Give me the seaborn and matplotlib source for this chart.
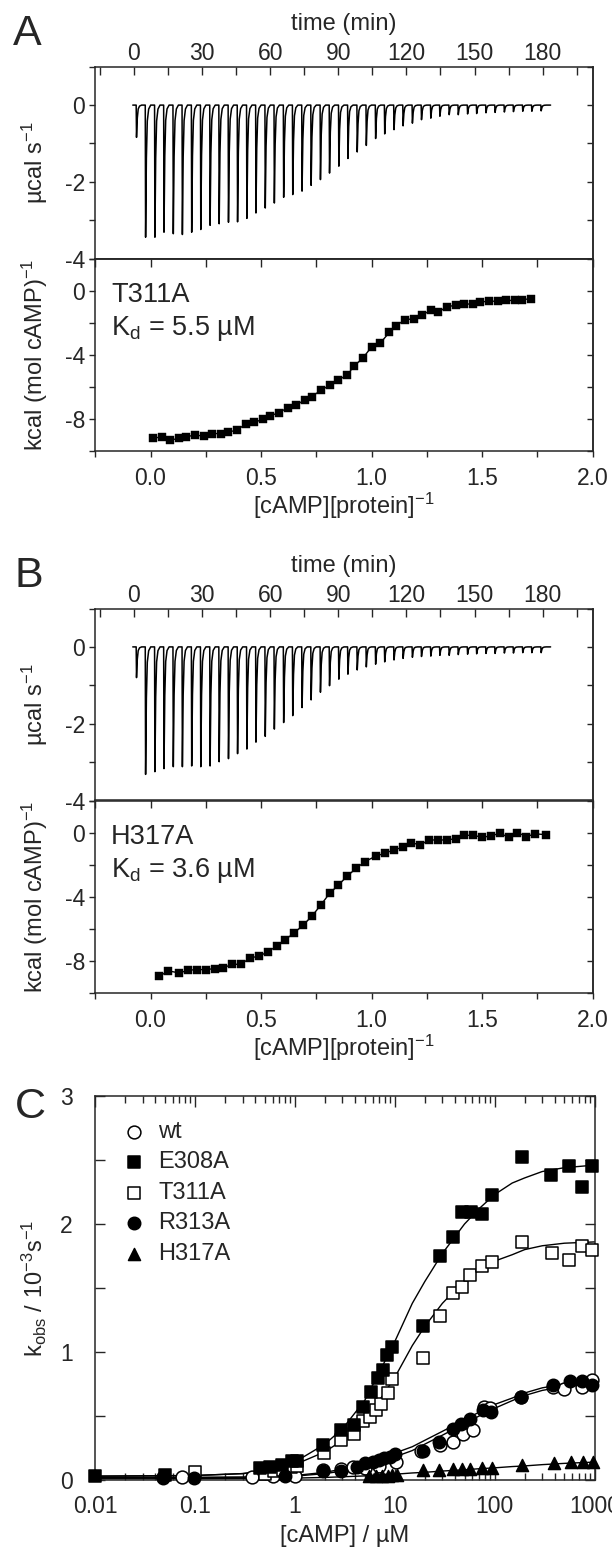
import numpy as np
import pandas as pd
import matplotlib
matplotlib.use("Agg")
import matplotlib.pyplot as plt
import seaborn as sns
from matplotlib.ticker import (MultipleLocator, LogLocator, NullFormatter,
                               FuncFormatter, FormatStrFormatter)

sns.set_style("ticks")
plt.rcParams['font.family'] = ['Liberation Sans', 'DejaVu Sans']
plt.rcParams['mathtext.fontset'] = 'custom'
plt.rcParams['mathtext.rm'] = 'Liberation Sans'
plt.rcParams['mathtext.it'] = 'Liberation Sans:italic'
plt.rcParams['mathtext.default'] = 'regular'
plt.rcParams['axes.unicode_minus'] = False

# ---- ITC raw data: injection times (min) and peak heights (ucal/s) ----
inj_time = [1, 5, 9.1, 13.1, 17.2, 21.2, 25.3, 29.3, 33.4, 37.4, 41.5, 45.5,
            49.6, 53.6, 57.7, 61.7, 65.8, 69.8, 73.9, 77.9, 82, 86, 90.1,
            94.1, 98.2, 102.2, 106.3, 110.3, 114.4, 118.4, 122.5, 126.5,
            130.6, 134.6, 138.7, 142.7, 146.8, 150.8, 154.9, 158.9, 163, 167,
            171.1, 175.1, 179.2]
peak_A = [0.84, 3.44, 3.44, 3.31, 3.35, 3.37, 3.31, 3.24, 3.13, 3.09,
          3.05, 3.04, 2.95, 2.81, 2.68, 2.55, 2.40, 2.33, 2.24, 2.09,
          1.94, 1.77, 1.59, 1.39, 1.22, 1.05, 0.87, 0.75, 0.64, 0.54,
          0.47, 0.38, 0.34, 0.29, 0.25, 0.25, 0.23, 0.22, 0.20, 0.19,
          0.18, 0.17, 0.16, 0.16, 0.15]
peak_B = [0.80, 3.32, 3.25, 3.17, 3.12, 3.12, 3.10, 3.12, 3.10, 2.99,
          2.91, 2.78, 2.66, 2.48, 2.33, 2.14, 1.97, 1.79, 1.58, 1.38,
          1.18, 1.01, 0.84, 0.71, 0.60, 0.52, 0.45, 0.39, 0.34, 0.30,
          0.27, 0.25, 0.24, 0.22, 0.22, 0.20, 0.19, 0.18, 0.17, 0.17,
          0.16, 0.16, 0.15, 0.15, 0.15]

# ---- ITC integrated heats ----
ratio_A = [0.01, 0.05, 0.09, 0.13, 0.16, 0.20, 0.24, 0.28, 0.32, 0.35, 0.39,
           0.43, 0.47, 0.51, 0.54, 0.58, 0.62, 0.66, 0.70, 0.73, 0.77, 0.81,
           0.85, 0.89, 0.92, 0.96, 1.00, 1.04, 1.08, 1.11, 1.15, 1.19, 1.23,
           1.27, 1.30, 1.34, 1.38, 1.42, 1.46, 1.49, 1.53, 1.57, 1.61, 1.65,
           1.68, 1.72]
heat_A = [-9.2, -9.1, -9.3, -9.2, -9.1, -9.0, -9.05, -8.9, -8.9, -8.8, -8.7,
          -8.3, -8.2, -8.0, -7.8, -7.6, -7.3, -7.1, -6.8, -6.6, -6.2, -5.9,
          -5.55, -5.25, -4.7, -4.2, -3.5, -3.25, -2.6, -2.2, -1.8, -1.75,
          -1.5, -1.2, -1.35, -1.0, -0.9, -0.85, -0.8, -0.7, -0.65, -0.65,
          -0.6, -0.6, -0.55, -0.5]
ratio_B = [0.04, 0.08, 0.13, 0.17, 0.21, 0.25, 0.29, 0.33, 0.37, 0.41, 0.45,
           0.49, 0.53, 0.57, 0.61, 0.65, 0.69, 0.73, 0.77, 0.81, 0.85, 0.89,
           0.93, 0.97, 1.02, 1.06, 1.10, 1.14, 1.18, 1.22, 1.26, 1.30, 1.34,
           1.38, 1.42, 1.46, 1.50, 1.54, 1.58, 1.62, 1.66, 1.70, 1.74, 1.79]
heat_B = [-8.96, -8.62, -8.75, -8.58, -8.54, -8.54, -8.48, -8.42, -8.21,
          -8.21, -7.81, -7.71, -7.44, -7.08, -6.67, -6.25, -5.77, -5.21,
          -4.52, -3.79, -3.27, -2.71, -2.23, -1.81, -1.46, -1.29, -1.08,
          -0.92, -0.63, -0.77, -0.46, -0.46, -0.46, -0.38, -0.17, -0.17,
          -0.29, -0.21, -0.04, -0.29, 0.0, -0.25, -0.08, -0.13]

# ---- panel C: kobs vs cAMP ----
wt_c = [0.048, 0.074, 0.37, 0.6, 1.0, 1.9, 2.9, 3.8, 5, 7, 10.3, 18.5, 28.5,
        38.5, 48, 61, 79, 90, 185, 380, 500, 750, 944]
wt_k = [0.02, 0.02, 0.02, 0.03, 0.035, 0.08, 0.085, 0.10, 0.09, 0.11, 0.14,
        0.23, 0.27, 0.30, 0.36, 0.39, 0.57, 0.56, 0.65, 0.73, 0.71, 0.73, 0.78]
e308_c = [0.01, 0.05, 0.45, 0.56, 0.74, 0.93, 1.06, 1.9, 2.9, 3.9, 4.8, 5.8,
          6.8, 7.6, 8.4, 9.4, 19.3, 28.5, 38, 47.5, 58.6, 75, 95, 187, 370,
          555, 748, 944]
e308_k = [0.03, 0.04, 0.09, 0.10, 0.12, 0.15, 0.15, 0.27, 0.39, 0.43, 0.57,
          0.69, 0.80, 0.86, 0.98, 1.04, 1.20, 1.75, 1.90, 2.09, 2.09, 2.08,
          2.23, 2.52, 2.38, 2.45, 2.29, 2.45]
t311_c = [0.1, 0.5, 0.62, 0.77, 0.92, 1.06, 1.94, 2.9, 3.9, 4.8, 5.6, 6.5,
          7.3, 8.5, 9.5, 19.2, 28.2, 38.5, 47, 56.5, 74, 95, 187, 374, 550,
          748, 944]
t311_k = [0.065, 0.05, 0.07, 0.08, 0.10, 0.11, 0.21, 0.31, 0.36, 0.46, 0.49,
          0.55, 0.59, 0.68, 0.79, 0.95, 1.28, 1.46, 1.51, 1.60, 1.67, 1.70,
          1.86, 1.77, 1.72, 1.83, 1.80]
r313_c = [0.048, 0.097, 0.8, 1.9, 2.9, 4.2, 5.1, 6.0, 7.0, 7.9, 8.9, 10, 19,
          28, 38.5, 46.6, 56.5, 77, 93, 185, 380, 570, 750, 944]
r313_k = [0.016, 0.016, 0.03, 0.07, 0.07, 0.10, 0.13, 0.14, 0.16, 0.17, 0.18,
          0.20, 0.23, 0.30, 0.40, 0.44, 0.48, 0.55, 0.53, 0.65, 0.74, 0.77,
          0.77, 0.74]
h317_c = [5.5, 6.5, 7.5, 8.5, 9.5, 10.5, 19, 28, 38, 47, 57, 75, 95, 190,
          390, 580, 770, 960]
h317_k = [0.03, 0.03, 0.035, 0.035, 0.04, 0.04, 0.08, 0.08, 0.085, 0.085,
          0.085, 0.09, 0.09, 0.12, 0.13, 0.14, 0.14, 0.14]

# fitted curves
fit_c = [0.01, 0.1, 0.3, 0.5, 1, 2, 3, 5, 7, 10, 15, 20, 30, 50, 70, 100,
         150, 200, 300, 500, 1000]
fit_e308 = [0.03, 0.035, 0.05, 0.07, 0.14, 0.28, 0.40, 0.62, 0.84, 1.08,
            1.38, 1.55, 1.77, 2.00, 2.12, 2.23, 2.32, 2.36, 2.41, 2.44, 2.46]
fit_t311 = [0.03, 0.035, 0.05, 0.07, 0.12, 0.22, 0.31, 0.47, 0.62, 0.80,
            1.05, 1.20, 1.38, 1.56, 1.64, 1.71, 1.76, 1.80, 1.83, 1.85, 1.86]
fit_r313 = [0.02, 0.02, 0.022, 0.025, 0.035, 0.06, 0.085, 0.13, 0.17, 0.21,
            0.26, 0.31, 0.38, 0.47, 0.53, 0.59, 0.64, 0.68, 0.72, 0.75, 0.77]
fit_wt = [0.02, 0.02, 0.022, 0.025, 0.03, 0.05, 0.07, 0.11, 0.145, 0.18,
          0.23, 0.28, 0.35, 0.44, 0.50, 0.56, 0.62, 0.66, 0.70, 0.73, 0.75]
fit_h317 = [0.01, 0.01, 0.012, 0.013, 0.015, 0.02, 0.025, 0.032, 0.038,
            0.045, 0.055, 0.06, 0.07, 0.08, 0.088, 0.095, 0.105, 0.11, 0.12,
            0.13, 0.14]

TICK_FS = 16.5
LAB_FS = 17

fig = plt.figure(figsize=(6.12, 15.53), dpi=100)


def px_rect(left, top, right, bottom):
    return [left / 612, 1 - bottom / 1553, (right - left) / 612, (bottom - top) / 1553]


def thermogram(peaks):
    # build the raw power trace from the peak heights
    spike_dt = [0, 0.15, 0.5, 0.9, 1.5, 2.4]
    spike_shape = [0, 1, 0.4, 0.12, 0.03, 0]
    tt = [-0.5]
    pp = [0.0]
    for t, d in zip(inj_time, peaks):
        for dt, f in zip(spike_dt, spike_shape):
            tt.append(t + dt)
            pp.append(-d * f)
    tt.append(183.5)
    pp.append(0.0)
    return pd.DataFrame({'t': tt, 'p': pp})


def itc_panel(top_px, peaks, ratio, heat, name, kd):
    mid = top_px + 192
    ax_up = fig.add_axes(px_rect(95.3, top_px, 592.6, mid))
    ax_lo = fig.add_axes(px_rect(95.3, mid, 592.6, mid + 192.5))

    tr = thermogram(peaks)
    sns.lineplot(data=tr, x='t', y='p', ax=ax_up, color='black', lw=1.1,
                 estimator=None, sort=False)
    ax_up.set_xlim(-17, 202)
    ax_up.set_ylim(-4, 1)
    ax_up.xaxis.set_major_locator(MultipleLocator(30))
    ax_up.xaxis.set_minor_locator(MultipleLocator(15))
    ax_up.yaxis.set_major_locator(MultipleLocator(2))
    ax_up.yaxis.set_minor_locator(MultipleLocator(1))
    ax_up.tick_params(axis='x', which='both', bottom=False, top=True,
                      labelbottom=False, labeltop=True, direction='in',
                      length=5.5, width=1, pad=1, labelsize=TICK_FS)
    ax_up.tick_params(axis='y', which='both', left=True, right=False,
                      direction='out', length=4.5, width=1, pad=3,
                      labelsize=TICK_FS)
    ax_up.xaxis.set_label_position('top')
    ax_up.set_xlabel('time (min)', fontsize=LAB_FS)
    ax_up.xaxis.set_label_coords(0.5, 1.19)
    ax_up.set_ylabel('µcal s$^{-1}$', fontsize=LAB_FS)
    ax_up.yaxis.set_label_coords(-0.092, 0.5)
    sec = ax_up.secondary_yaxis('right')
    sec.yaxis.set_major_locator(MultipleLocator(2))
    sec.yaxis.set_minor_locator(MultipleLocator(1))
    sec.yaxis.set_major_formatter(NullFormatter())
    sec.tick_params(which='both', direction='in', length=4.5, width=1)

    sns.lineplot(x=ratio, y=heat, ax=ax_lo, color='black', lw=1.0,
                 estimator=None, sort=False)
    sns.scatterplot(x=ratio, y=heat, ax=ax_lo, marker='s', s=30,
                    color='black', edgecolor='black', linewidth=0.3, zorder=3)
    ax_lo.set_xlim(-0.25, 2.0)
    ax_lo.set_ylim(-10, 2)
    ax_lo.xaxis.set_major_locator(MultipleLocator(0.5))
    ax_lo.xaxis.set_minor_locator(MultipleLocator(0.25))
    ax_lo.xaxis.set_major_formatter(FormatStrFormatter('%.1f'))
    ax_lo.yaxis.set_major_locator(MultipleLocator(4))
    ax_lo.yaxis.set_minor_locator(MultipleLocator(2))
    ax_lo.tick_params(axis='x', which='both', bottom=True, top=False,
                      direction='out', length=4.5, width=1, pad=7,
                      labelsize=TICK_FS)
    ax_lo.tick_params(axis='y', which='both', left=True, right=False,
                      direction='out', length=4.5, width=1, pad=3,
                      labelsize=TICK_FS)
    ax_lo.set_xlabel('[cAMP][protein]$^{-1}$', fontsize=LAB_FS)
    ax_lo.xaxis.set_label_coords(0.5, -0.205)
    ax_lo.set_ylabel('kcal (mol cAMP)$^{-1}$', fontsize=LAB_FS)
    ax_lo.yaxis.set_label_coords(-0.092, 0.5)
    secx = ax_lo.secondary_xaxis('top')
    secx.xaxis.set_major_locator(MultipleLocator(0.25))
    secx.xaxis.set_major_formatter(NullFormatter())
    secx.tick_params(direction='in', length=5.5, width=1)
    secy = ax_lo.secondary_yaxis('right')
    secy.yaxis.set_major_locator(MultipleLocator(4))
    secy.yaxis.set_minor_locator(MultipleLocator(2))
    secy.yaxis.set_major_formatter(NullFormatter())
    secy.tick_params(which='both', direction='in', length=4.5, width=1)

    ax_lo.text(0.032, 0.775, name, transform=ax_lo.transAxes,
               fontsize=19.5, va='baseline', ha='left')
    ax_lo.text(0.032, 0.605, 'K$_d$ = ' + kd + ' µM', transform=ax_lo.transAxes,
               fontsize=19.5, va='baseline', ha='left')

    for a in (ax_up, ax_lo, sec, secx, secy):
        for sp in a.spines.values():
            sp.set_linewidth(1.1)


itc_panel(66.7, peak_A, ratio_A, heat_A, 'T311A', '5.5')
itc_panel(608.5, peak_B, ratio_B, heat_B, 'H317A', '3.6')

# ---- panel C ----
axc = fig.add_axes(px_rect(95, 1096, 594.5, 1480))
axc.set_xscale('log')
fits = [fit_wt, fit_r313, fit_t311, fit_e308, fit_h317]
for f in fits:
    sns.lineplot(x=fit_c, y=f, ax=axc, color='black', lw=1.0,
                 estimator=None, sort=False, legend=False)

series = [
    ('wt', wt_c, wt_k, 'o', 'white', 85),
    ('T311A', t311_c, t311_k, 's', 'white', 80),
    ('R313A', r313_c, r313_k, 'o', 'black', 80),
    ('E308A', e308_c, e308_k, 's', 'black', 80),
    ('H317A', h317_c, h317_k, '^', 'black', 75),
]
for lab, xc, yk, mk, fc, sz in series:
    sns.scatterplot(x=xc, y=yk, ax=axc, marker=mk, s=sz, facecolor=fc,
                    edgecolor='black', linewidth=1.1, label=lab,
                    clip_on=False, zorder=3)

axc.set_xlim(0.01, 1000)
axc.set_ylim(0, 3)
axc.xaxis.set_major_locator(LogLocator(base=10))
axc.xaxis.set_minor_locator(LogLocator(base=10, subs=np.arange(2, 10)))
axc.xaxis.set_minor_formatter(NullFormatter())
axc.xaxis.set_major_formatter(FuncFormatter(lambda v, p: f"{v:g}"))
axc.yaxis.set_major_locator(MultipleLocator(1))
axc.yaxis.set_minor_locator(MultipleLocator(0.5))
axc.tick_params(axis='both', which='both', direction='in', top=True,
                right=True, width=1, labelsize=TICK_FS)
axc.tick_params(axis='x', which='major', length=8, pad=11)
axc.tick_params(axis='x', which='minor', length=5)
axc.tick_params(axis='y', which='both', length=7, pad=16)
axc.set_xlabel('[cAMP] / µM', fontsize=LAB_FS)
axc.xaxis.set_label_coords(0.5, -0.118)
axc.set_ylabel('k$_{obs}$ / 10$^{-3}$s$^{-1}$', fontsize=LAB_FS)
axc.yaxis.set_label_coords(-0.092, 0.5)
for sp in axc.spines.values():
    sp.set_linewidth(1.1)

h, l = axc.get_legend_handles_labels()
hd = dict(zip(l, h))
order = ['wt', 'E308A', 'T311A', 'R313A', 'H317A']
axc.legend([hd[k] for k in order], order, loc='upper left',
           bbox_to_anchor=(0.035, 0.96), frameon=False, fontsize=LAB_FS,
           handlelength=1.0, handletextpad=0.55, labelspacing=0.36,
           borderaxespad=0, scatterpoints=1)

# panel letters
fig.text(27 / 612, 1 - 45 / 1553, 'A', fontsize=31, ha='center', va='baseline')
fig.text(29 / 612, 1 - 587 / 1553, 'B', fontsize=31, ha='center', va='baseline')
fig.text(30 / 612, 1 - 1118 / 1553, 'C', fontsize=31, ha='center', va='baseline')

fig.savefig('out.png', dpi=100)
